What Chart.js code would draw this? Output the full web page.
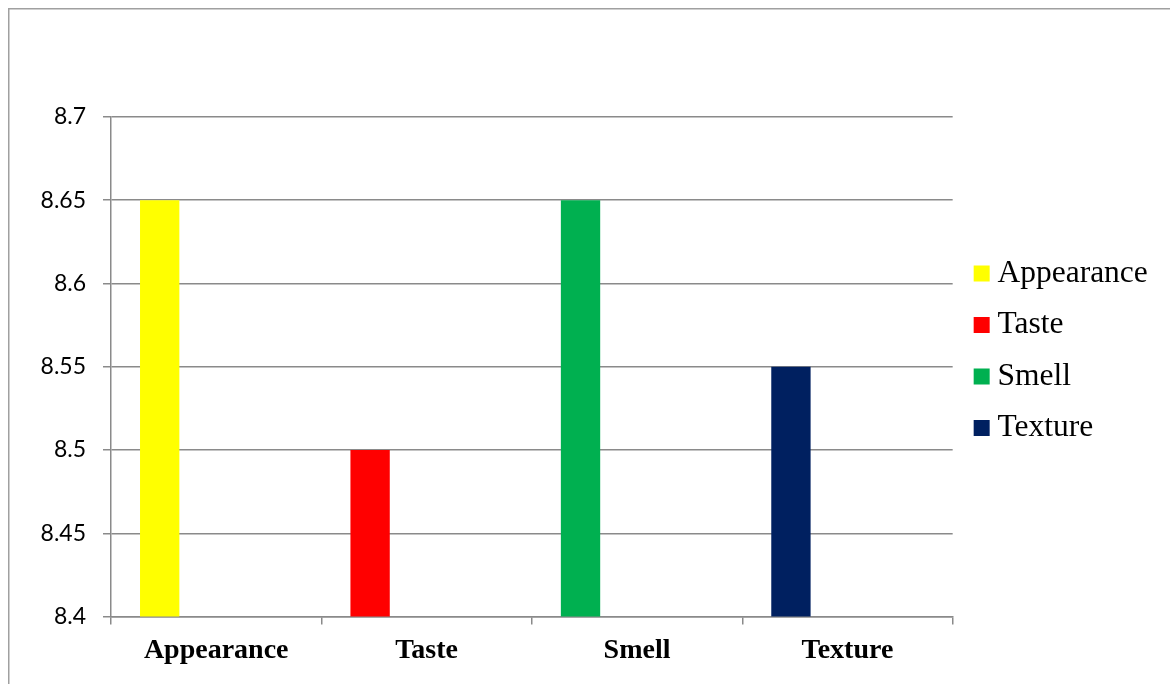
<!DOCTYPE html>
<html>
<head>
<meta charset="utf-8">
<script src="https://cdn.jsdelivr.net/npm/chart.js@4.4.1/dist/chart.umd.min.js"></script>
<style>
  html, body { margin: 0; padding: 0; background: #ffffff; }
  #wrap { width: 1170px; height: 684px; position: relative; }
</style>
</head>
<body>
<div id="wrap"><canvas id="c" width="1170" height="684"></canvas></div>
<script>
// ---- data ----
const categories = ['Appearance', 'Taste', 'Smell', 'Texture'];
const seriesNames = ['Appearance', 'Taste', 'Smell', 'Texture'];
const appearanceValues = [8.65, null, null, null];
const tasteValues = [null, 8.5, null, null];
const smellValues = [null, null, 8.65, null];
const textureValues = [null, null, null, 8.55];
const yTickValues = [8.4, 8.45, 8.5, 8.55, 8.6, 8.65, 8.7];
const seriesColors = ['#FFFF00', '#FF0000', '#00B050', '#002060'];

const seriesValues = [appearanceValues, tasteValues, smellValues, textureValues];
const gridColor = '#8a8a8a';

const datasets = seriesNames.map((name, i) => ({
  label: name,
  data: seriesValues[i],
  backgroundColor: seriesColors[i],
  borderWidth: 0,
  stack: 'main',
  categoryPercentage: 0.7163,
  barPercentage: 1.044
}));
// empty slots (the chart reserves room for the other series in each category)
['s2', 's3', 's4'].forEach(s => datasets.push({
  label: '_' + s,
  data: categories.map(() => null),
  backgroundColor: 'rgba(0,0,0,0)',
  borderWidth: 0,
  stack: s,
  categoryPercentage: 0.7163,
  barPercentage: 1.044
}));

const frame = {
  id: 'frame',
  beforeDraw(chart) {
    const ctx = chart.ctx;
    ctx.save();
    ctx.strokeStyle = '#a0a0a0';
    ctx.lineWidth = 1.5;
    ctx.beginPath();
    ctx.moveTo(8.75, 684);
    ctx.lineTo(8.75, 8.75);
    ctx.lineTo(1170, 8.75);
    ctx.stroke();
    ctx.restore();
  }
};

new Chart(document.getElementById('c'), {
  type: 'bar',
  data: { labels: categories, datasets },
  plugins: [frame],
  options: {
    responsive: false,
    animation: false,
    devicePixelRatio: 1,
    layout: { padding: { left: 0, right: 16, top: 27.5, bottom: 10 } },
    plugins: {
      tooltip: { enabled: false },
      title: {
        display: true,
        text: ' ',
        font: { size: 10, lineHeight: 1 },
        padding: { top: 79.5, bottom: 0 }
      },
      legend: {
        position: 'right',
        labels: {
          filter: item => item.datasetIndex < seriesNames.length,
          usePointStyle: true,
          pointStyle: 'rect',
          boxWidth: 0.01,
          boxHeight: 16,
          padding: 20,
          color: '#000000',
          font: { family: '"Liberation Serif", "Times New Roman", serif', size: 31.5 }
        }
      }
    },
    scales: {
      x: {
        grid: {
          display: true,
          drawOnChartArea: false,
          drawTicks: true,
          tickLength: 8,
          offset: true,
          color: gridColor,
          lineWidth: 1.5
        },
        border: { display: true, color: gridColor, width: 1.5 },
        ticks: {
          color: '#000000',
          padding: 9,
          maxRotation: 0,
          font: { family: '"Liberation Serif", "Times New Roman", serif', size: 28, weight: 'bold' }
        },
        afterFit: s => { s.height = 57.5; }
      },
      y: {
        stacked: false,
        min: 8.4,
        max: 8.7,
        afterBuildTicks: s => { s.ticks = yTickValues.map(v => ({ value: v })); },
        grid: { color: gridColor, lineWidth: 1.5, tickLength: 8, drawTicks: true },
        border: { display: true, color: gridColor, width: 1.5 },
        ticks: {
          color: '#000000',
          padding: 17,
          font: { family: 'Lato, "Noto Sans", sans-serif', size: 23 },
          callback: v => String(+v.toFixed(2))
        },
        afterFit: s => { s.width = 111; }
      },
      yRight: {
        type: 'linear',
        position: 'right',
        display: true,
        grid: { display: false },
        border: { display: false },
        ticks: { display: false },
        afterFit: s => { s.width = 9; }
      }
    }
  }
});
</script>
</body>
</html>
